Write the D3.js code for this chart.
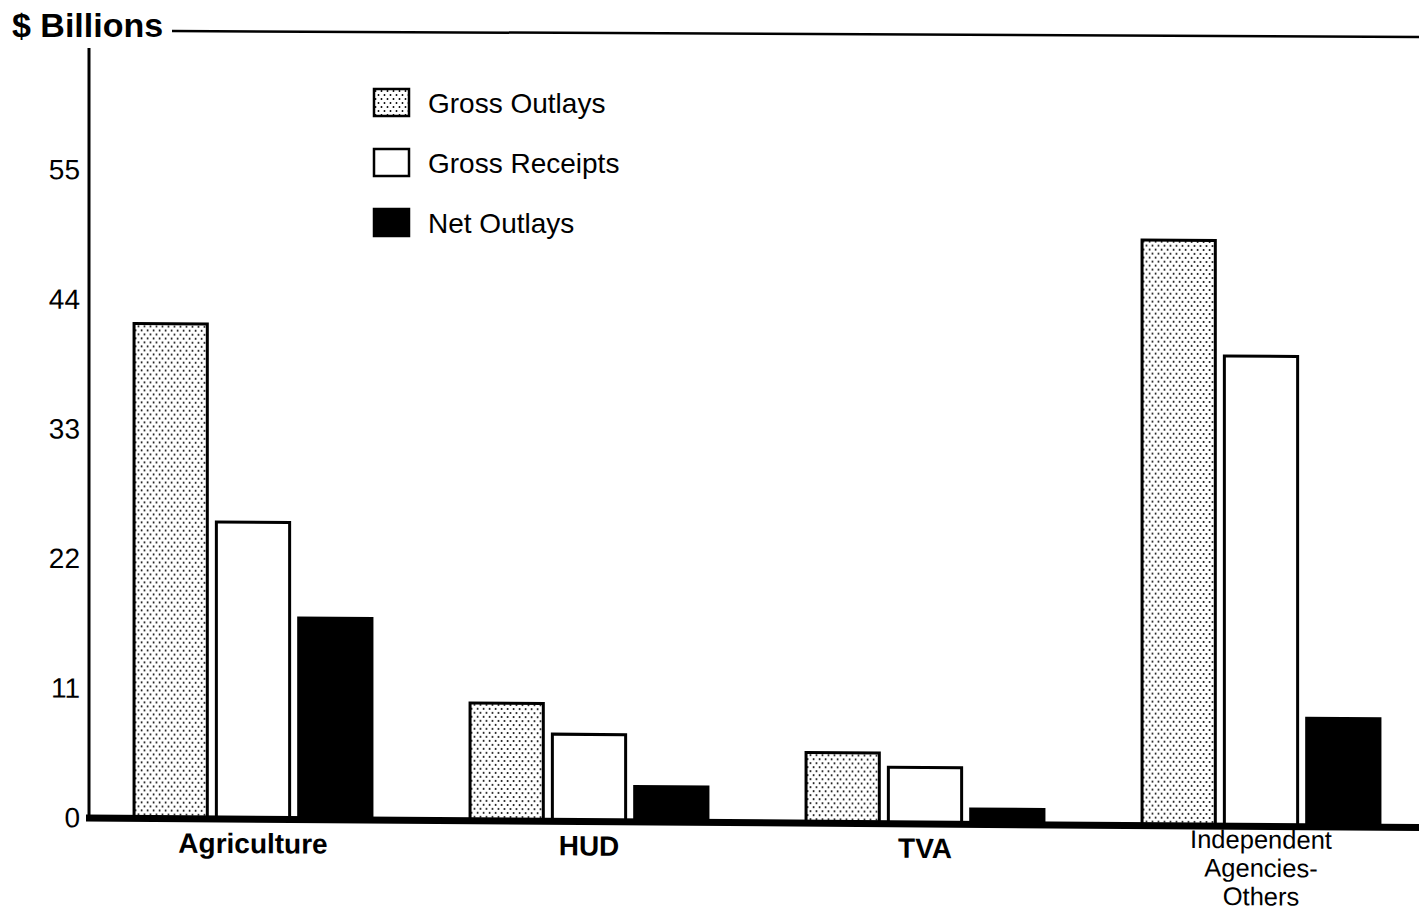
<!DOCTYPE html>
<html>
<head>
<meta charset="utf-8">
<script src="https://cdn.jsdelivr.net/npm/d3@7"></script>
<style>
  body { margin: 0; background: #fff; }
  svg { display: block; font-family: "Liberation Sans", Arial, Helvetica, sans-serif; }
</style>
</head>
<body>
<div id="chart"></div>
<script>
// data ($ billions)
var categories = ["Agriculture", "HUD", "TVA", "Independent Agencies-Others"];
var seriesNames = ["Gross Outlays", "Gross Receipts", "Net Outlays"];
var grossOutlays = [42.0, 10.0, 6.0, 49.7];
var grossReceipts = [25.2, 7.4, 4.8, 39.9];
var netOutlays = [17.1, 3.0, 1.3, 9.2];
var yTicks = [0, 11, 22, 33, 44, 55];

var W = 1419, H = 912;

var svg = d3.select("#chart").append("svg")
    .attr("width", W)
    .attr("height", H);

// dotted fill for gross outlays
var defs = svg.append("defs");
var pat = defs.append("pattern")
    .attr("id", "dots")
    .attr("patternUnits", "userSpaceOnUse")
    .attr("width", 6).attr("height", 8);
pat.append("rect").attr("width", 6).attr("height", 8).attr("fill", "#fff");
pat.append("circle").attr("cx", 1.5).attr("cy", 2).attr("r", 0.95).attr("fill", "#000");
pat.append("circle").attr("cx", 4.5).attr("cy", 6).attr("r", 0.95).attr("fill", "#000");

var fills = {"Gross Outlays": "url(#dots)", "Gross Receipts": "#fff", "Net Outlays": "#000"};

// the scan is a little tilted, so skew the plot a touch
var g = svg.append("g")
    .attr("transform", "translate(0,-0.64) skewY(0.41)");

var y = d3.scaleLinear().domain([0, 55]).range([818, 170]);

var x0 = d3.scaleBand()
    .domain(categories)
    .range([85, 1429])
    .paddingInner(0.292)
    .paddingOuter(0.146);

var x1 = d3.scaleBand()
    .domain(seriesNames)
    .range([0, x0.bandwidth()])
    .paddingInner(0.11);

var rows = categories.map(function(c, i){
    return {cat: c, vals: [grossOutlays[i], grossReceipts[i], netOutlays[i]]};
});

// bars
var groups = g.selectAll("g.grp")
    .data(rows).enter().append("g")
    .attr("class", "grp")
    .attr("transform", function(d){ return "translate(" + x0(d.cat) + ",0)"; });

groups.selectAll("rect")
    .data(function(d){ return d.vals.map(function(v, j){ return {s: seriesNames[j], v: v}; }); })
    .enter().append("rect")
    .attr("x", function(d){ return x1(d.s); })
    .attr("y", function(d){ return y(d.v); })
    .attr("width", x1.bandwidth())
    .attr("height", function(d){ return y(0) - y(d.v); })
    .attr("fill", function(d){ return fills[d.s]; })
    .attr("stroke", "#000")
    .attr("stroke-width", 3);

// y axis
var yAxis = g.append("g")
    .attr("transform", "translate(80,0)")
    .call(d3.axisLeft(y).tickValues(yTicks).tickSize(0).tickPadding(0));
yAxis.select(".domain").remove();
yAxis.selectAll("text")
    .attr("font-size", 28)
    .attr("font-family", "Liberation Sans, Arial, sans-serif")
    .attr("fill", "#000");

g.append("line")
    .attr("x1", 89).attr("x2", 89)
    .attr("y1", 48).attr("y2", y(0))
    .attr("stroke", "#000").attr("stroke-width", 3);

g.append("line")
    .attr("x1", 86).attr("x2", W + 20)
    .attr("y1", y(0)).attr("y2", y(0))
    .attr("stroke", "#000").attr("stroke-width", 7);

// x labels
var xAxis = g.append("g")
    .attr("transform", "translate(0," + y(0) + ")")
    .call(d3.axisBottom(x0).tickSize(0).tickPadding(0));
xAxis.select(".domain").remove();
xAxis.selectAll("text")
    .attr("font-family", "Liberation Sans, Arial, sans-serif")
    .attr("fill", "#000")
    .attr("dy", null)
    .attr("y", 34)
    .attr("font-size", 28)
    .attr("font-weight", "bold")
    .each(function(d){
        if (d === "Independent Agencies-Others") {
            var t = d3.select(this).text(null)
                .attr("font-weight", "normal")
                .attr("font-size", 25.5)
                .attr("y", 22);
            ["Independent", "Agencies-", "Others"].forEach(function(s, i){
                t.append("tspan")
                    .attr("x", 0)
                    .attr("dy", i === 0 ? 0 : 28.5)
                    .text(s);
            });
        }
    });

// title and top rule
svg.append("text")
    .attr("x", 12).attr("y", 37)
    .attr("font-size", 34)
    .attr("font-weight", "bold")
    .text("$ Billions");

svg.append("line")
    .attr("x1", 172).attr("y1", 31)
    .attr("x2", W).attr("y2", 37)
    .attr("stroke", "#000").attr("stroke-width", 2.5);

// legend
var legend = svg.append("g").attr("transform", "translate(374,89)");
var li = legend.selectAll("g")
    .data(seriesNames).enter().append("g")
    .attr("transform", function(d, i){ return "translate(0," + (i * 60) + ")"; });
li.append("rect")
    .attr("width", 35).attr("height", 27)
    .attr("fill", function(d){ return fills[d]; })
    .attr("stroke", "#000").attr("stroke-width", 2.5);
li.append("text")
    .attr("x", 54).attr("y", 24)
    .attr("font-size", 28)
    .text(function(d){ return d; });
</script>
</body>
</html>
